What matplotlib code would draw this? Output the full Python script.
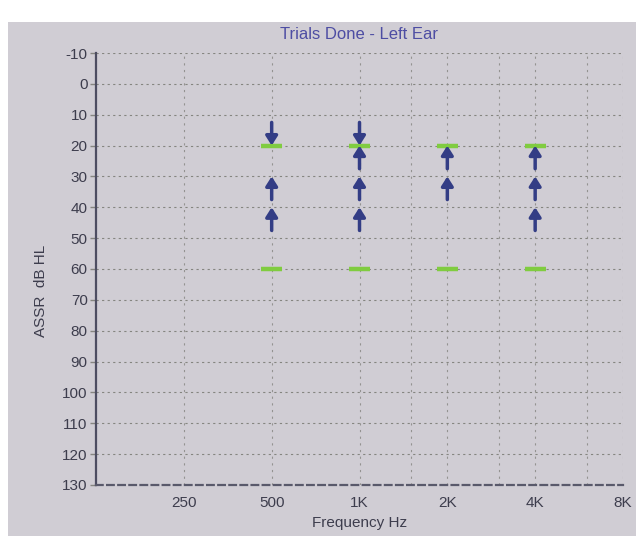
import matplotlib
matplotlib.use("Agg")
import matplotlib.pyplot as plt
from matplotlib.patches import Rectangle
from matplotlib.ticker import FixedLocator, NullLocator

plt.rcParams['font.family'] = ['Liberation Sans', 'DejaVu Sans']
plt.rcParams['axes.unicode_minus'] = False

# ---- data ----
title = "Trials Done - Left Ear"
xlabel = "Frequency Hz"
ylabel = "ASSR  dB HL"
freq_ticks = [250, 500, 1000, 2000, 4000, 8000]
freq_labels = ["250", "500", "1K", "2K", "4K", "8K"]
inter_octaves = [1500, 3000, 6000]
db_ticks = list(range(-10, 131, 10))

# green trial-limit dashes (freq, dB)
limit_freqs = [500, 500, 1000, 1000, 2000, 2000, 4000, 4000]
limit_levels = [20, 60, 20, 60, 20, 60, 20, 60]

# arrows: frequency, tip level (dB), direction ('up' / 'down')
arrow_freqs = [500, 500, 500, 1000, 1000, 1000, 1000, 2000, 2000, 4000, 4000, 4000]
arrow_levels = [20, 30, 40, 20, 20, 30, 40, 20, 30, 20, 30, 40]
arrow_dirs = ['down', 'up', 'up', 'down', 'up', 'up', 'up', 'up', 'up', 'up', 'up', 'up']
arrow_len = 7.5

bg = (0.815, 0.805, 0.83)
grid_c = (0.52, 0.52, 0.50)
text_c = (0.24, 0.24, 0.30)
navy = (0.20, 0.24, 0.52)
green = (0.50, 0.80, 0.25)

fig = plt.figure(figsize=(6.36, 5.36), dpi=100, facecolor='white')
fig.patches.append(Rectangle((8/636, 0), 1, 1 - 22/536, transform=fig.transFigure,
                             facecolor=bg, edgecolor='none', zorder=-10))

ax = fig.add_axes([96/636, 1 - 485/536, (623 - 96)/636, (485 - 53)/536])
ax.set_facecolor(bg)
ax.set_xscale('log', base=2)
ax.set_xlim(125, 8000)
ax.set_ylim(130, -10)

for s in ['top', 'right']:
    ax.spines[s].set_visible(False)
ax.spines['left'].set_color((0.30, 0.30, 0.38))
ax.spines['left'].set_linewidth(1.6)
ax.spines['bottom'].set_color((0.35, 0.35, 0.42))
ax.spines['bottom'].set_linewidth(1.6)
ax.spines['bottom'].set_linestyle((0, (3, 2)))

ax.xaxis.set_major_locator(FixedLocator(freq_ticks))
ax.set_xticklabels(freq_labels)
ax.xaxis.set_minor_locator(NullLocator())
ax.set_yticks(db_ticks)
ax.yaxis.set_minor_locator(NullLocator())
ax.tick_params(axis='x', length=0, pad=8, labelsize=11, labelcolor=text_c)
ax.tick_params(axis='y', length=4, width=1, color=grid_c, pad=2, labelsize=11, labelcolor=text_c)

for y in db_ticks[:-1]:
    ax.axhline(y, color=grid_c, lw=0.8, ls=(0, (2, 3)), zorder=1)
for x in freq_ticks + inter_octaves:
    ax.axvline(x, color=grid_c, lw=0.8, ls=(0, (2, 4)), zorder=1, alpha=0.8)

# green dashes
for f, lv in zip(limit_freqs, limit_levels):
    ax.plot([f / 1.085, f * 1.085], [lv, lv], color=green, lw=3.2, solid_capstyle='butt', zorder=3)

# arrows
for f, lv, d in zip(arrow_freqs, arrow_levels, arrow_dirs):
    tail = lv - arrow_len if d == 'down' else lv + arrow_len
    ax.annotate('', xy=(f, lv), xytext=(f, tail),
                arrowprops=dict(arrowstyle='-|>,head_length=0.55,head_width=0.35',
                                color=navy, lw=2.5, shrinkA=0, shrinkB=0),
                zorder=4)

ax.set_title(title, color=(0.30, 0.30, 0.64), fontsize=12, pad=10)
ax.set_xlabel(xlabel, color=text_c, fontsize=11, labelpad=4)
ax.set_ylabel(ylabel, color=text_c, fontsize=11)
ax.yaxis.set_label_coords(-0.092, 0.45)

fig.savefig("out.png", dpi=100, facecolor='white')
